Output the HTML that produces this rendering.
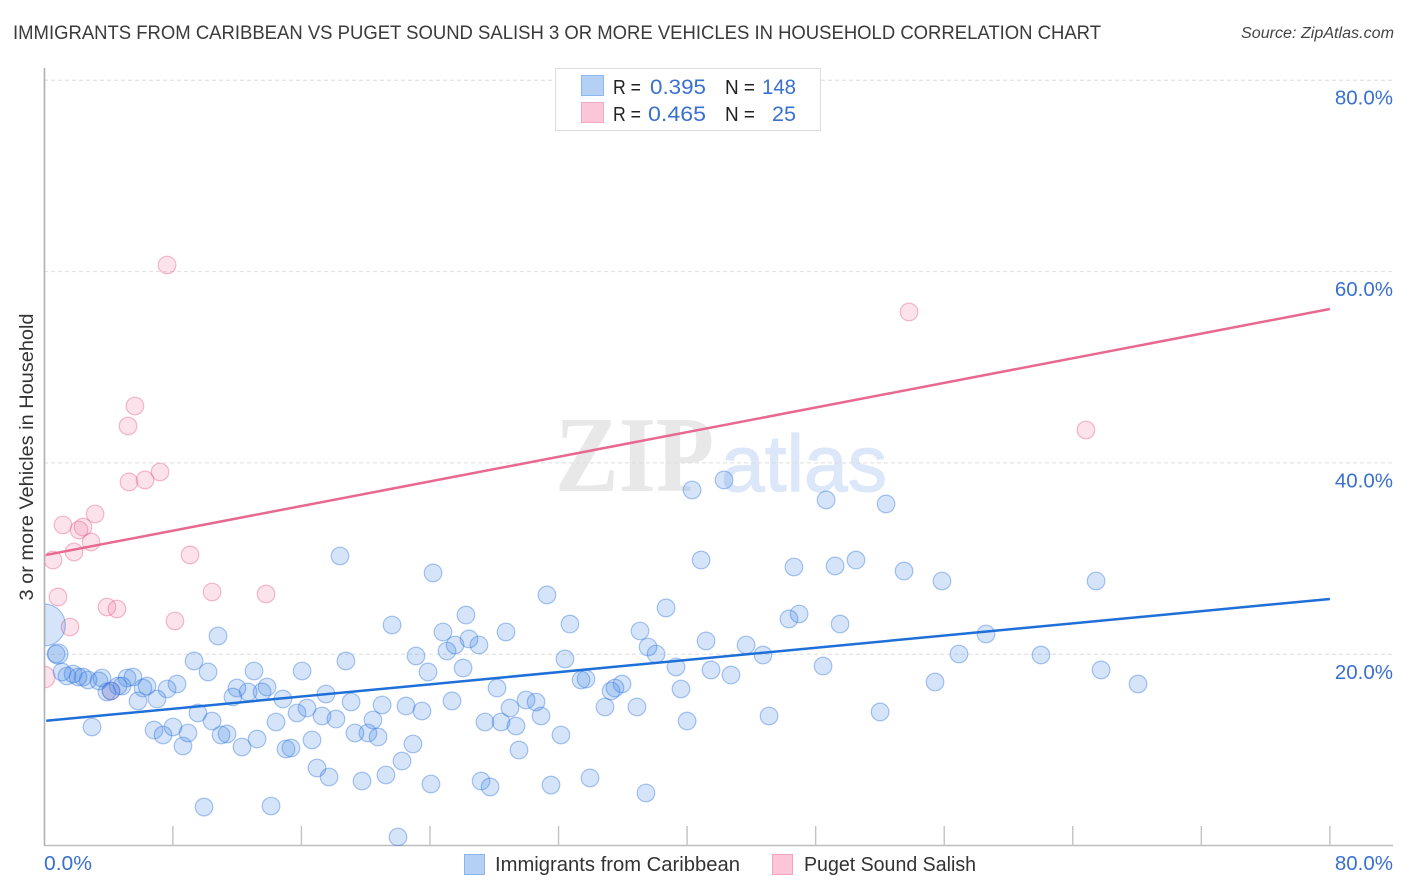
<!DOCTYPE html>
<html lang="en">
<head>
<meta charset="utf-8">
<title>Immigrants from Caribbean vs Puget Sound Salish correlation chart</title>
<style>
html,body{margin:0;padding:0;background:#fff;}
body{width:1406px;height:892px;overflow:hidden;}
svg{display:block;font-family:"Liberation Sans",sans-serif;}
</style>
</head>
<body>
<svg id="chart" width="1406" height="892" viewBox="0 0 1406 892" xmlns="http://www.w3.org/2000/svg">
  <defs>
    <clipPath id="plot-clip"><rect x="45" y="60" width="1348" height="786"/></clipPath>
  </defs>
  <text x="13" y="39" font-size="19.5" fill="#3a3a3a" textLength="1088" lengthAdjust="spacingAndGlyphs">IMMIGRANTS FROM CARIBBEAN VS PUGET SOUND SALISH 3 OR MORE VEHICLES IN HOUSEHOLD CORRELATION CHART</text>
  <text x="1241" y="38" font-size="15.5" font-style="italic" fill="#444" textLength="153" lengthAdjust="spacingAndGlyphs">Source: ZipAtlas.com</text>
  <g>
    <text x="555" y="491" font-family="'Liberation Serif',serif" font-weight="bold" font-size="108" fill="#e8e8e8" textLength="159" lengthAdjust="spacingAndGlyphs">ZIP</text>
    <text x="721" y="491" font-size="80" fill="#dce8f9" stroke="#dce8f9" stroke-width="1.2" textLength="166" lengthAdjust="spacingAndGlyphs">atlas</text>
  </g>
  <g id="grid"></g>
  <g id="axes"></g>
  <text transform="translate(33,457) rotate(-90)" font-size="19" fill="#333" text-anchor="middle" textLength="287" lengthAdjust="spacingAndGlyphs">3 or more Vehicles in Household</text>
  <g id="points" clip-path="url(#plot-clip)"></g>
  <g id="trends"></g>
  <g id="labels"></g>
  <g>
    <rect x="555.5" y="68.5" width="265" height="62" fill="#fff" stroke="#ddd" stroke-width="1"/>
    <rect x="581.5" y="75.5" width="22" height="20" fill="#b5d0f5" stroke="#8fb8ee"/>
    <rect x="581.5" y="102.5" width="22" height="20" fill="#fcc6d8" stroke="#f5aac3"/>
    <g font-size="20" fill="#222">
      <text x="613" y="94" textLength="28" lengthAdjust="spacingAndGlyphs">R =</text>
      <text x="725" y="94" textLength="30" lengthAdjust="spacingAndGlyphs">N =</text>
      <text x="613" y="121" textLength="28" lengthAdjust="spacingAndGlyphs">R =</text>
      <text x="725" y="121" textLength="30" lengthAdjust="spacingAndGlyphs">N =</text>
    </g>
    <g font-size="21.5" fill="#3a70d0">
      <text x="650" y="94" textLength="56" lengthAdjust="spacingAndGlyphs">0.395</text>
      <text x="762" y="94" textLength="34" lengthAdjust="spacingAndGlyphs">148</text>
      <text x="648" y="121" textLength="58" lengthAdjust="spacingAndGlyphs">0.465</text>
      <text x="772" y="121" textLength="24" lengthAdjust="spacingAndGlyphs">25</text>
    </g>
  </g>
  <g>
    <rect x="462.5" y="854.5" width="20" height="20" fill="#b5d0f5" stroke="#8db4ea" transform="translate(2,0)"/>
    <text x="495" y="871" font-size="20" fill="#333" textLength="245" lengthAdjust="spacingAndGlyphs">Immigrants from Caribbean</text>
    <rect x="772.5" y="854.5" width="20" height="20" fill="#fcc6d8" stroke="#f3a4bd"/>
    <text x="780" y="871" font-size="20" fill="#333" textLength="172" lengthAdjust="spacingAndGlyphs" dx="24">Puget Sound Salish</text>
  </g>
</svg>
<script>
const caribbeanX = [0,0.85,0.73,18.40,24.19,31.28,26.24,21.64,32.71,28.73,24.81,26.43,25.56,27.05,25.06,23.13,18.77,9.32,10.81,37.07,37.57,38.07,38.69,40.87,40.31,42.30,48.65,52.38,50.51,49.21,46.65,53.50,55.86,65.45,46.97,46.34,49.52,41.18,43.67,44.72,58.60,56.92,62.02,65.76,68.06,55.43,52.01,48.46,45.10,42.73,41.49,39.31,39.62,40.00,36.88,35.95,35.51,35.27,34.89,33.71,33.40,32.40,32.15,30.91,30.60,29.98,28.98,28.17,28.42,29.35,27.42,29.54,26.06,23.88,25.37,23.50,22.51,21.02,19.09,17.53,16.04,13.86,13.05,13.55,12.68,11.99,11.74,14.85,15.73,16.35,14.42,17.28,18.15,20.45,20.14,19.33,20.77,22.94,16.66,15.35,15.04,13.24,12.30,11.37,11.00,10.44,9.56,10.19,8.26,7.64,7.01,6.39,6.14,5.83,5.52,5.15,4.84,4.59,4.15,3.90,3.59,3.40,2.72,2.41,2.10,1.79,1.41,1.10,2.97,6.83,7.39,8.01,8.63,8.94,16.97,17.72,19.77,21.26,22.26,24.06,27.18,27.74,31.53,33.96,37.44,9.94,14.11,22.01];
const caribbeanY = [23.06,20.03,20.03,30.27,28.50,26.20,24.10,23.06,23.16,22.33,22.33,21.60,20.97,20.97,20.34,19.82,19.30,19.30,21.91,22.43,20.76,20.03,24.84,29.85,37.17,38.22,36.13,35.71,29.85,29.23,29.12,28.70,27.66,27.66,24.21,23.69,23.16,21.39,20.97,19.92,22.12,20.03,19.92,18.36,16.89,17.10,13.97,18.77,13.55,17.83,18.36,18.67,16.37,13.02,14.49,16.89,16.47,16.16,14.49,17.41,17.31,19.51,11.56,13.55,15.01,15.22,14.38,16.47,12.92,12.50,12.92,9.99,18.56,18.15,15.12,14.07,14.59,14.70,15.01,15.85,18.25,16.58,18.25,16.06,16.06,16.47,15.53,15.32,13.86,14.38,12.92,13.55,13.23,13.13,11.77,11.77,11.35,10.62,11.04,10.20,10.10,11.14,10.31,11.67,11.56,13.02,13.86,18.15,16.89,16.37,15.32,16.68,16.47,15.12,17.62,17.52,16.68,16.68,16.16,16.06,17.52,17.21,17.31,17.62,17.62,17.94,17.73,18.15,12.40,12.08,11.56,12.40,10.41,11.77,8.11,7.17,6.75,7.38,8.84,6.44,6.75,6.13,6.33,7.07,5.50,4.03,4.14,0.90];
const caribbeanWeight = [5.7,1.3,1];
const salishX = [7.64,53.81,5.64,5.21,64.82,7.20,6.27,5.27,3.16,1.16,2.41,2.16,2.91,1.85,0.54,9.07,0.85,10.44,13.80,3.90,4.52,8.13,1.60,0,4.15];
const salishY = [60.69,55.78,45.95,43.86,43.44,39.05,38.22,38.01,34.66,33.51,33.30,32.99,31.74,30.69,29.85,30.38,25.99,26.51,26.30,24.94,24.73,23.48,22.85,17.62,16.16];
const salishWeight = [1,1,1,1,1,1,1,1,1,1,1,1,1,1,1,1,1,1,1,1,1,1,1,1.5,1];
const caribbeanTrendX = [0.12,80];
const caribbeanTrendY = [13.05,25.78];
const salishTrendX = [0.12,80];
const salishTrendY = [30.38,56.09];
const yTickValues = [20,40,60,80];
const yTickLabels = ['20.0%','40.0%','60.0%','80.0%'];
const xTickValues = [0,8,16,24,32,40,48,56,64,72,80];
const xEdgeLabels = ['0.0%','80.0%'];

const NS = 'http://www.w3.org/2000/svg';
const xScale = function (v) { return 44.3 + v * 16.07; };
const yScale = function (v) { return 845.6 - v * 9.567; };
const rScale = function (w) { return 8.8 * Math.sqrt(w); };
function make(tag, parent, attrs) {
  const el = document.createElementNS(NS, tag);
  Object.keys(attrs).forEach(function (k) { el.setAttribute(k, attrs[k]); });
  parent.appendChild(el);
  return el;
}
const grid = document.getElementById('grid');
const axes = document.getElementById('axes');
const labels = document.getElementById('labels');
const points = document.getElementById('points');
const trends = document.getElementById('trends');

yTickValues.forEach(function (v, i) {
  const line = make('line', grid, {x1: 44, x2: 1393, y1: yScale(v), y2: yScale(v), stroke: '#dedede', 'stroke-width': 1, 'stroke-dasharray': '4 3'});
  
  
  const label = make('text', labels, {x: 1393, y: yScale(v) + 24.5, 'font-size': 20.5, fill: '#3a70d0', 'text-anchor': 'end'});
  label.textContent = yTickLabels[i];
  
  
});

const yAxisLine = make('line', axes, {x1: 44.5, x2: 44.5, y1: 68, y2: 846, stroke: '#b0b0b0', 'stroke-width': 1.6});


const xAxisLine = make('line', axes, {x1: 44, x2: 1393, y1: 845.5, y2: 845.5, stroke: '#bdbdbd', 'stroke-width': 1.4});



xTickValues.forEach(function (v) {
  if (v === 0) return;
  const tick = make('line', axes, {x1: xScale(v), x2: xScale(v), y1: 826, y2: 846, stroke: '#c2c2c2', 'stroke-width': 1.4});
  
  
});

const xLabelStart = make('text', labels, {x: 44, y: 870, 'font-size': 20.5, fill: '#3a70d0', textLength: 48, lengthAdjust: 'spacingAndGlyphs'});
xLabelStart.textContent = xEdgeLabels[0];


const xLabelEnd = make('text', labels, {x: 1393, y: 870, 'font-size': 20.5, fill: '#3a70d0', 'text-anchor': 'end'});
xLabelEnd.textContent = xEdgeLabels[1];



salishX.forEach(function (v, i) {
  const c = make('circle', points, {cx: xScale(v), cy: yScale(salishY[i]), r: rScale(salishWeight[i]), fill: 'rgba(240,110,155,0.2)', stroke: 'rgba(228,95,140,0.42)', 'stroke-width': 1.2});
  
  
});
caribbeanX.forEach(function (v, i) {
  const w = i < caribbeanWeight.length ? caribbeanWeight[i] : 1;
  const c = make('circle', points, {cx: xScale(v), cy: yScale(caribbeanY[i]), r: rScale(w), fill: 'rgba(62,130,226,0.22)', stroke: 'rgba(50,120,222,0.42)', 'stroke-width': 1.2});
  
  
});

const salishLine = make('line', trends, {x1: xScale(salishTrendX[0]), y1: yScale(salishTrendY[0]), x2: xScale(salishTrendX[1]), y2: yScale(salishTrendY[1]), stroke: '#e8688f', 'stroke-width': 2.5});


const caribbeanLine = make('line', trends, {x1: xScale(caribbeanTrendX[0]), y1: yScale(caribbeanTrendY[0]), x2: xScale(caribbeanTrendX[1]), y2: yScale(caribbeanTrendY[1]), stroke: '#1f6fd8', 'stroke-width': 2.5});


</script>
</body>
</html>
